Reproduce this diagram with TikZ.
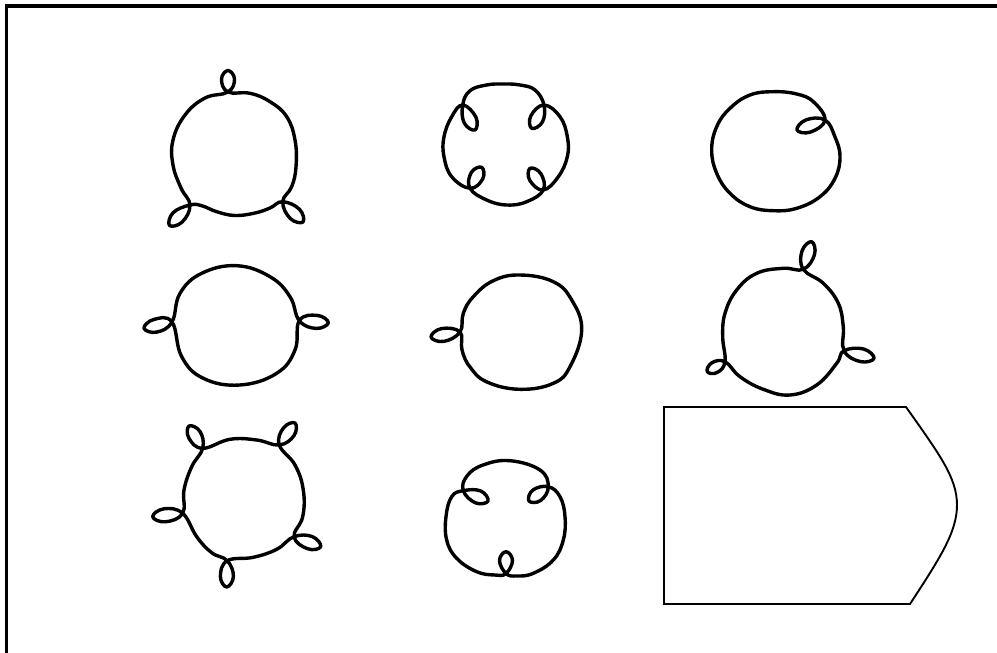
\documentclass[tikz,border=0pt]{standalone}
\tikzset{
  frameln/.style={line width=3.2pt},
  ringln/.style={line width=3.4pt, line cap=round, line join=round},
  tagln/.style={line width=1.9pt, line join=miter},
}
\newcommand{\curlring}[1]{%
  \draw[ringln] plot[smooth cycle, tension=0.7] coordinates {#1};
}

\begin{document}
\begin{tikzpicture}[x=1pt, y=-1pt]
  \useasboundingbox (0,0) rectangle (997,653);
  \draw[frameln] (6.5,653) -- (6.5,6) -- (997,6);
  % top row
  \curlring{(228,92) (221.5,79.1) (228,70.5) (234.5,79.1) (228,92) (205,98)
    (185,115) (173,140) (173,165) (181,188) (190,205) (182.3,221.9)
    (169.5,225.5) (173.1,212.7) (190,205) (201.7,205.7) (216.7,211.7)
    (235,215.5) (255,213) (270,208) (282.7,201.7) (299.5,209.3) (303,222)
    (290.3,218.5) (282.7,201.7) (291.7,186.7) (296,166.7) (295,140)
    (286.7,116.7) (270,101.7) (250,93.3)}
  \curlring{(462.7,105) (464.2,122.9) (475,130) (475.9,117.1) (462.7,105)
    (451.7,116.7) (444,136.7) (444,156.7) (451.7,176.7) (470,188.3)
    (482.7,178.9) (481.7,167.3) (471.3,172.5) (470,188.3) (486.7,200)
    (506.7,205) (526.7,201.7) (543.3,190) (540.8,173.6) (530,168.3)
    (529.8,180.4) (543.3,190) (558.3,176.7) (567.3,156.7) (567.3,136.7)
    (560,116.7) (544,105) (530.8,116) (531.7,128.3) (542.4,122) (544,105)
    (535,90) (520,85) (503.3,84) (486.7,85) (470,90.7)}
  \curlring{(825,120) (806,119.9) (797,130) (810.4,132.1) (825,120)
    (813.3,101.7) (796.7,94) (773.3,91.7) (750,95) (730,108.3) (716.7,126.7)
    (711.7,150) (716.7,173.3) (730,193.3) (750,206.7) (773.3,210.7)
    (796.7,208.3) (820,196.7) (835,178.3) (840,156.7) (835,137)}
  % middle row
  \curlring{(172,322) (156.6,332.1) (144,328.3) (153.8,319.5) (172,322)
    (181.7,356.7) (203.3,378.3) (240,385) (276.7,373.3) (295,350)
    (299.3,320.7) (317.2,315.4) (328.3,322.7) (316.2,328.4) (299.3,320.7)
    (290,296.7) (270,276.7) (236.7,265.7) (201.7,273.3) (180,293.3)}
  \curlring{(460,332) (443.7,341.4) (431,337) (441.5,328.6) (460,332)
    (462,350) (470,367) (487,382) (520,389.3) (553.3,383.3) (570,366.7)
    (581.7,330) (571.7,300) (553.3,281.7) (520,275) (493.3,280.7)
    (473.3,296.7) (463.3,313.3)}
  \curlring{(803.3,269.3) (802.1,250.8) (811.7,241.7) (814.5,254.6)
    (803.3,269.3) (783.3,268.3) (756.7,273.3) (736.7,290) (725,313.3)
    (722.7,336.7) (725,361.7) (717.1,372.5) (707.3,371.7) (711.7,362.9)
    (725,361.7) (740,376.7) (763.3,389.3) (790,395) (816.7,385)
    (836.7,363.3) (844,350.7) (863.6,349) (874,358.3) (860.4,361.6)
    (844,350.7) (843.3,326.7) (838.3,303.3) (823.3,283.3)}
  % bottom row
  \curlring{(279.3,445) (283.4,428) (295,423) (294,435.6) (279.3,445)
    (256.7,440) (230,439.3) (202.7,448.3) (189,438.3) (189,426) (200,431.5)
    (202.7,448.3) (191.7,466.7) (184,490) (182.7,513.3) (165.4,521.8)
    (152.7,516.7) (164,508.8) (182.7,513.3) (196.7,536.7) (211.7,552.7)
    (227.3,560.7) (233.4,576.5) (226.7,587) (220.4,576.5) (227.3,560.7)
    (253.3,557.3) (276.7,549.3) (294,536.7) (312.3,536.6) (320.7,546.7)
    (307.7,548.8) (294,536.7) (302.7,516.7) (303.3,490) (295,465)}
  \curlring{(463.3,490.7) (475.6,502.9) (488,501) (480.6,490.9) (463.3,490.7)
    (451.7,496.7) (446,516.7) (446.7,540) (456.7,558.3) (476.7,571.7)
    (495,575) (506,573.5) (512.5,560.4) (506,551.7) (499.5,560.4)
    (506,573.5) (516.7,576) (533.3,573.3) (553.3,560) (563.3,540)
    (565,516.7) (560,496.7) (548.3,486.7) (532.8,490.1) (529,501)
    (540.6,500.5) (548.3,486.7) (540,470) (510,460.7) (483,465) (467,476)}
  % the tag
  \draw[tagln] (664,407) -- (906,407) .. controls (940,455) and (957,478)
    .. (957,505) .. controls (957,532) and (940,558) .. (910,604)
    -- (664,604) -- cycle;
\end{tikzpicture}
\end{document}
